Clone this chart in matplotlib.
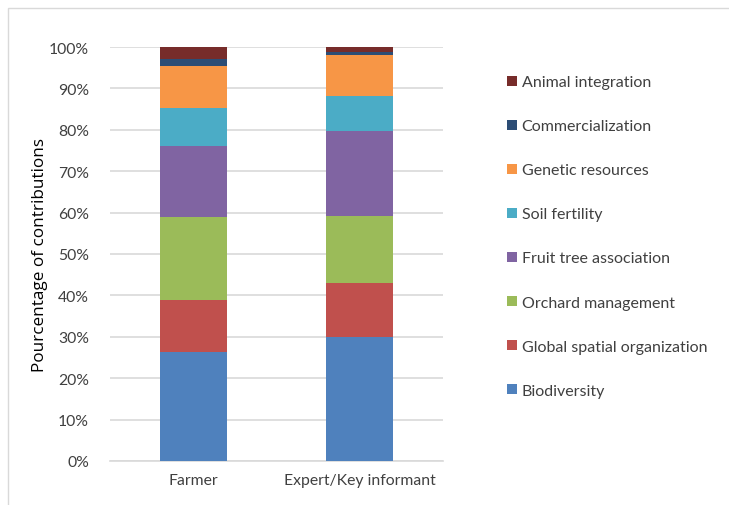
import numpy as np
import matplotlib.pyplot as plt
from matplotlib.patches import Rectangle

groups = ['Farmer', 'Expert/Key informant']
categories = ['Biodiversity', 'Global spatial organization', 'Orchard management',
              'Fruit tree association', 'Soil fertility', 'Genetic resources',
              'Commercialization', 'Animal integration']
farmer = [26.3, 12.5, 20.1, 17.2, 9.2, 10.2, 1.6, 2.9]
expert = [30.0, 13.1, 16.0, 20.6, 8.5, 9.8, 0.8, 1.2]
colors = ['#4f81bd', '#c0504d', '#9bbb59', '#8064a2', '#4bacc6', '#f79646', '#2c4d75', '#772c2a']

plt.rcParams['font.family'] = ['Lato', 'DejaVu Sans']

fig = plt.figure(figsize=(7.29, 5.06), dpi=100)
ax = fig.add_axes([110/729, 1-462/506, 333/729, 414/506])

# outer chart frame
fig.patches.append(Rectangle((8/729, -0.1), 1.1, 1.1 - 9/506, transform=fig.transFigure,
                             fill=False, edgecolor='#d9d9d9', linewidth=1))

x = np.arange(len(groups))
bottom = np.zeros(len(groups))
for i, cat in enumerate(categories):
    vals = np.array([farmer[i], expert[i]])
    ax.bar(x, vals, 0.4, bottom=bottom, color=colors[i], label=cat, zorder=3)
    bottom += vals

ax.set_xlim(-0.5, 1.5)
ax.set_ylim(0, 100)
ax.set_yticks(np.arange(0, 101, 10))
ax.set_yticklabels(['%d%%' % v for v in range(0, 101, 10)])
ax.set_xticks(x)
ax.set_xticklabels(groups)
ax.tick_params(axis='both', length=0, labelsize=11.3, colors='#404040')
ax.tick_params(axis='y', pad=15)
ax.tick_params(axis='x', pad=9)
ax.grid(axis='y', color='#d9d9d9', linewidth=1.2, zorder=0)
for s in ['top', 'right', 'left']:
    ax.spines[s].set_visible(False)
ax.spines['bottom'].set_color('#d9d9d9')
ax.spines['bottom'].set_linewidth(1.2)

ax.set_ylabel('Pourcentage of contributions', family=['Open Sans', 'DejaVu Sans'],
              fontsize=12.3, color='black', labelpad=1)

h, l = ax.get_legend_handles_labels()
leg = fig.legend(h[::-1], l[::-1], loc='upper left', bbox_to_anchor=(493/729, 1-62/506),
                 frameon=False, fontsize=11.5, labelspacing=1.88, handlelength=0.6,
                 handleheight=0.6, handletextpad=0.3)
for t in leg.get_texts():
    t.set_color('#404040')

fig.savefig('out.png', dpi=100)
